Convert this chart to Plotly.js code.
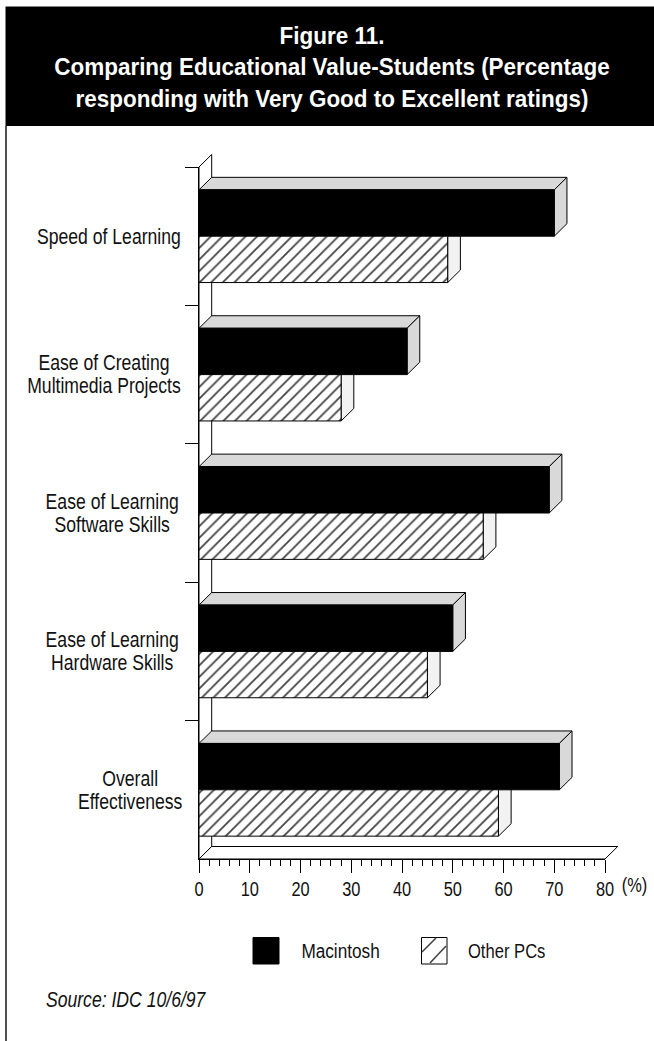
<!DOCTYPE html>
<html>
<head>
<meta charset="utf-8">
<script src="https://cdn.plot.ly/plotly-3.0.0.min.js"></script>
<style>html,body{margin:0;padding:0;background:#fff}</style>
</head>
<body>
<div id="chart" style="width:654px;height:1041px"></div>
<script>
var categories = ["Speed of Learning","Ease of Creating<br>Multimedia Projects","Ease of Learning<br>Software Skills","Ease of Learning<br>Hardware Skills","Overall<br>Effectiveness"];
var macintosh = [70,41,69,50,71];
var otherPCs = [49,28,56,45,59];
var xTickVals = [0,10,20,30,40,50,60,70,80];
var xMinorVals = [2,4,6,8,12,14,16,18,22,24,26,28,32,34,36,38,42,44,46,48,52,54,56,58,62,64,66,68,72,74,76,78];
var seriesNames = ["Macintosh","Other PCs"];
var titleText = "Figure 11.<br>Comparing Educational Value-Students (Percentage<br>responding with Very Good to Excellent ratings)";
var sourceText = "Source: IDC 10/6/97";

var FONT = '"Liberation Sans",Arial,sans-serif';
var W = 654, H = 1041, L = 199, R = 605, T = 167, B = 859;
function px(x){return (x-L)/(R-L);}
function py(y){return (B-y)/(B-T);}
var BARGAP = 0.33;
var XMAX = 80, NCAT = categories.length;
var DX = 12.7/((R-L)/XMAX), DY = 12.5/((B-T)/NCAT);
var half = (1-BARGAP)/2;
var labelCenters = [109,103.5,112,112,129.5];
var shapes = [];
function pathOf(pts){return pts.map(function(p,i){return (i?'L':'M')+p[0]+','+p[1];}).join('')+'Z';}
function poly(pts, fill){
  shapes.push({type:'path',path:pathOf(pts),xref:'x',yref:'y',layer:'below',fillcolor:fill,line:{color:'#000',width:1}});
}
function polyPaper(pts, fill){
  var q = pts.map(function(p){return [p[0]/XMAX,(NCAT-0.5-p[1])/NCAT];});
  shapes.push({type:'path',path:pathOf(q),xref:'paper',yref:'paper',layer:'below',fillcolor:fill,line:{color:'#000',width:1}});
}
var yTop=-0.5, yBot=NCAT-0.5;
polyPaper([[0,yTop],[DX,yTop-DY],[DX,yBot-DY],[0,yBot]],'#ffffff');
polyPaper([[0,yBot],[DX,yBot-DY],[XMAX+DX,yBot-DY],[XMAX,yBot]],'#ffffff');
categories.forEach(function(c,i){
  var top=i-half, mid=i, bot=i+half;
  var o=otherPCs[i], m=macintosh[i];
  poly([[o,mid],[o+DX,mid-DY],[o+DX,bot-DY],[o,bot]],'#f2f2f2');
  poly([[0,top],[DX,top-DY],[m+DX,top-DY],[m,top]],'#d9d9d9');
  poly([[m,top],[m+DX,top-DY],[m+DX,mid-DY],[m,mid]],'#d9d9d9');
});
function pshape(t,x0,y0,x1,y1,extra){
  var s={type:t,xref:'paper',yref:'paper',x0:px(x0),x1:px(x1),y0:py(y0),y1:py(y1),layer:'below'};
  for(var k in extra)s[k]=extra[k];
  shapes.push(s);
}
pshape('rect',5.5,6.5,654,126,{fillcolor:'#000',line:{width:0}});
pshape('line',6,126,6,1041,{line:{color:'#222',width:1.6}});
pshape('rect',253,937.5,279,964,{fillcolor:'#000',line:{color:'#000',width:1}});
pshape('rect',421.5,937.5,447,964,{fillcolor:'#fff',line:{color:'#000',width:1}});
pshape('line',422,952,436,938,{line:{color:'#444',width:1.6}});
pshape('line',430,963,446,946,{line:{color:'#444',width:1.6}});

var textRatios = [];
var annotations = categories.map(function(c,i){
  textRatios.push(0.8);
  return {text:c,xref:'paper',yref:'y',x:px(labelCenters[i]),y:i,xanchor:'center',yanchor:'middle',align:'center',showarrow:false,
          yshift:c.indexOf('<br>')>=0?-2.8:0,font:{family:FONT,size:22,color:'#111'}};
});
function ann(text,x,y,font,ratio){
  textRatios.push(ratio);
  annotations.push({text:text,xref:'paper',yref:'paper',x:px(x),y:py(y),xanchor:'center',yanchor:'middle',showarrow:false,font:font});
}
ann('(%)',634,885,{family:FONT,size:20,color:'#111'},0.82);
ann(seriesNames[0],340.5,951,{family:FONT,size:20,color:'#111'},0.86);
ann(seriesNames[1],506.5,951,{family:FONT,size:20,color:'#111'},0.83);
ann(sourceText,125.5,999,{family:FONT,size:22,style:'italic',color:'#111'},0.8);

var traces = [
 {type:'bar',orientation:'h',name:seriesNames[0],y:categories,x:macintosh,marker:{color:'#000',line:{color:'#000',width:1}},hoverinfo:'x+y'},
 {type:'bar',orientation:'h',name:seriesNames[1],y:categories,x:otherPCs,
  marker:{color:'#fff',line:{color:'#000',width:1},pattern:{shape:'/',size:8.2,solidity:0.22,fgcolor:'#444',bgcolor:'#fff',fgopacity:1}},hoverinfo:'x+y'}
];
var layout = {
  width:W,height:H,paper_bgcolor:'#fff',plot_bgcolor:'rgba(0,0,0,0)',showlegend:false,
  margin:{l:L,r:W-R,t:T,b:H-B,pad:0},
  barmode:'group',bargap:BARGAP,bargroupgap:0,
  title:{text:titleText,font:{family:FONT,size:24,weight:'bold',color:'#fff'},x:332/W,xanchor:'center',y:1-44/H,yanchor:'middle',yref:'container',automargin:false},
  xaxis:{range:[0,XMAX],tickvals:xTickVals,ticks:'outside',ticklen:13,tickwidth:1,tickcolor:'#000',showgrid:false,zeroline:false,
         showline:true,linecolor:'#000',linewidth:1,tickfont:{family:FONT,size:20,color:'#111'},ticklabelstandoff:-1,
         minor:{tickvals:xMinorVals,ticks:'outside',ticklen:6,tickwidth:1,tickcolor:'#000',showgrid:false}},
  yaxis:{type:'category',categoryorder:'array',categoryarray:categories,range:[NCAT-0.5,-0.5],showticklabels:false,ticks:'outside',tickson:'boundaries',ticklen:13,tickwidth:1,tickcolor:'#000',
         showgrid:false,zeroline:false,showline:true,linecolor:'#000',linewidth:1},
  shapes:shapes,annotations:annotations
};
function squeeze(textEl, ratio, lineEm){
  var lines = textEl.querySelectorAll('tspan.line');
  var targets = lines.length ? Array.prototype.slice.call(lines) : [textEl];
  targets.forEach(function(t,i){
    var len = t.getComputedTextLength();
    if(len>0){ t.setAttribute('textLength', (len*ratio).toFixed(1)); t.setAttribute('lengthAdjust','spacingAndGlyphs'); }
    if(lineEm && i>0){ t.setAttribute('dy', (i*lineEm)+'em'); }
  });
}
Plotly.newPlot('chart',traces,layout,{displayModeBar:false,staticPlot:true}).then(function(gd){
  gd.querySelectorAll('.gtitle').forEach(function(t){squeeze(t,0.936,1.31);});
  gd.querySelectorAll('.xtick text').forEach(function(t){squeeze(t,0.82);});
  gd.querySelectorAll('.annotation-text').forEach(function(t,i){squeeze(t,textRatios[i],i<categories.length?1.045:0);});
});
</script>
</body>
</html>
